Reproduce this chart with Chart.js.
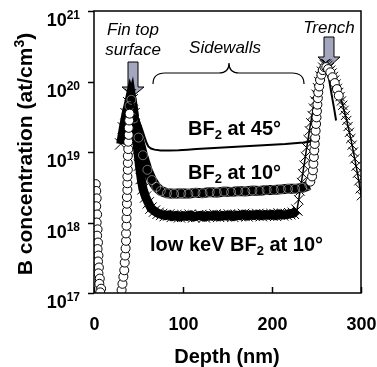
<!DOCTYPE html>
<html>
<head>
<meta charset="utf-8">
<script src="https://cdn.jsdelivr.net/npm/chart.js@4.4.0/dist/chart.umd.min.js"></script>
<style>
  html, body { margin: 0; padding: 0; background: #fff; }
  #wrap { width: 377px; height: 367px; }
</style>
</head>
<body>
<div id="wrap"><canvas id="chart" width="377" height="367"></canvas></div>
<script>
// Ticks
const depthTicks = [0, 100, 200, 300];
const concExps = [17, 18, 19, 20, 21];

// BF2 at 10° (círculos) - columna en la superficie
const surfDepth = [2, 2.5, 3, 2.5, 3.5, 3, 4, 3.5, 4.5, 4, 5, 4.5, 5.5, 5, 6.5, 6, 8, 7];
const surfConc = [3.5e18, 2.8e18, 2.2e18, 1.7e18, 1.3e18, 1.0e18, 8.0e17, 6.5e17, 5.2e17, 4.2e17, 3.4e17, 2.8e17, 2.3e17, 1.9e17, 1.6e17, 1.35e17, 1.15e17, 1.02e17];

// BF2 at 10° - columna en el flanco de la aleta
const finDepth = [31, 32, 33, 34, 34.5, 35, 35.5, 36, 36, 36.5, 36.5, 37, 37, 37, 37.5, 37.5, 37.5, 38, 38, 38, 38.5, 38.5, 39, 39, 39.5, 40];
const finConc = [1.1e17, 1.35e17, 1.7e17, 2.1e17, 2.7e17, 3.4e17, 4.3e17, 5.5e17, 7e17, 9e17, 1.15e18, 1.45e18, 1.85e18, 2.3e18, 2.9e18, 3.6e18, 4.5e18, 5.6e18, 7e18, 8.8e18, 1.1e19, 1.4e19, 1.75e19, 2.2e19, 2.8e19, 3.5e19];

// BF2 at 10° - banda de las paredes
const tenDepth = [40, 42, 45, 50, 55, 60, 65, 70, 75, 82, 90, 98, 106, 114, 122, 130, 138, 146, 154, 162, 170, 178, 186, 194, 202, 210, 218, 226, 234, 242];
const tenConc = [4.5e19, 5.5e19, 3e19, 1.6e19, 9e18, 5.6e18, 4e18, 3.2e18, 2.8e18, 2.6e18, 2.55e18, 2.6e18, 2.55e18, 2.65e18, 2.6e18, 2.7e18, 2.65e18, 2.75e18, 2.7e18, 2.8e18, 2.75e18, 2.85e18, 2.8e18, 2.9e18, 2.9e18, 2.95e18, 3e18, 3e18, 3.1e18, 3.4e18];

// BF2 at 10° - subida a la trinchera
const tenTrenchDepth = [243, 245, 246, 246.5, 247, 247.5, 248, 248.5, 249, 249.5, 250, 250.5, 251, 251.5, 252, 253, 254, 255.5, 257, 259, 261, 263, 265.5, 268, 270.5, 273, 275];
const tenTrenchConc = [3.8e18, 4.5e18, 5.5e18, 6.8e18, 8.5e18, 1.05e19, 1.3e19, 1.6e19, 2e19, 2.5e19, 3.1e19, 3.8e19, 4.7e19, 5.8e19, 7e19, 8.5e19, 1.05e20, 1.25e20, 1.45e20, 1.6e20, 1.6e20, 1.5e20, 1.35e20, 1.15e20, 9.5e19, 7.8e19, 6.3e19];

// BF2 at 45°
const f45Depth = [42, 46, 50, 54, 57, 59, 61, 64, 68, 75, 85, 95, 105, 115, 125, 135, 145, 155, 165, 175, 185, 195, 205, 215, 225, 235, 242, 246, 248, 250, 252, 255, 258, 261, 264, 267, 270, 272];
const f45Conc = [5.5e19, 4e19, 2.9e19, 2.1e19, 1.6e19, 1.35e19, 1.2e19, 1.12e19, 1.08e19, 1.05e19, 1.05e19, 1.06e19, 1.08e19, 1.1e19, 1.12e19, 1.14e19, 1.16e19, 1.18e19, 1.2e19, 1.22e19, 1.24e19, 1.26e19, 1.28e19, 1.3e19, 1.33e19, 1.36e19, 1.4e19, 1.6e19, 2.4e19, 3.5e19, 5.2e19, 8.5e19, 1.3e20, 1.5e20, 1.1e20, 6.5e19, 4e19, 2.8e19];

// low keV BF2 at 10° (cruces) - banda
const lowDepth = [30, 33, 36, 39, 41, 43, 45, 47, 49, 51, 53, 55, 58, 61, 64, 68, 72, 76, 80, 84, 88, 92, 96, 100, 104, 108, 112, 116, 120, 124, 128, 132, 136, 140, 144, 148, 152, 156, 160, 164, 168, 172, 176, 180, 184, 188, 192, 196, 200, 204, 208, 212, 216, 220, 224, 228];
const lowConc = [1.3e19, 2.2e19, 3.5e19, 5e19, 6.5e19, 5.5e19, 3.5e19, 2e19, 1.1e19, 6.5e18, 4.2e18, 3e18, 2.3e18, 1.9e18, 1.6e18, 1.45e18, 1.35e18, 1.3e18, 1.25e18, 1.28e18, 1.22e18, 1.26e18, 1.2e18, 1.25e18, 1.22e18, 1.27e18, 1.2e18, 1.24e18, 1.26e18, 1.2e18, 1.25e18, 1.23e18, 1.28e18, 1.22e18, 1.26e18, 1.24e18, 1.28e18, 1.22e18, 1.27e18, 1.25e18, 1.3e18, 1.24e18, 1.28e18, 1.26e18, 1.3e18, 1.25e18, 1.29e18, 1.27e18, 1.3e18, 1.26e18, 1.32e18, 1.28e18, 1.3e18, 1.33e18, 1.35e18, 1.5e18];

// low keV BF2 at 10° - trinchera
const lowTrenchDepth = [228, 230, 231.5, 233, 234.5, 236, 237.5, 239, 240.5, 242, 243.5, 245, 246.5, 248, 249.5, 251, 252.5, 254, 255.5, 257, 258.5, 260, 261.5, 263, 264.5, 266, 267.5, 269, 270.5, 272, 273.5, 275, 276.5, 278, 279.5, 281, 282.5, 284, 285.5, 287, 288.5, 290, 291.5, 293, 294.5, 296, 297.5, 299, 300.5];
const lowTrenchConc = [1.5e18, 2.1e18, 2.8e18, 3.7e18, 4.9e18, 6.5e18, 8.6e18, 1.15e19, 1.5e19, 2e19, 2.6e19, 3.3e19, 4.2e19, 5.3e19, 6.6e19, 8.2e19, 1e20, 1.2e20, 1.4e20, 1.6e20, 1.75e20, 1.8e20, 1.78e20, 1.7e20, 1.58e20, 1.45e20, 1.32e20, 1.18e20, 1.05e20, 9.2e19, 8e19, 7e19, 6.1e19, 5.3e19, 4.6e19, 3.9e19, 3.3e19, 2.8e19, 2.3e19, 1.9e19, 1.55e19, 1.25e19, 1e19, 8e18, 6.3e18, 5e18, 3.9e18, 3e18, 2.4e18];

const FONT = '"Liberation Sans", Arial, sans-serif';
const pts = (xs, ys) => xs.map((x, i) => ({ x, y: ys[i] }));

const circles = {
  showLine: false, pointStyle: 'circle', pointRadius: 4.5,
  pointBackgroundColor: '#fff', pointBorderColor: '#000', pointBorderWidth: 1
};

// Dibuja texto en partes (subíndices / superíndices)
function drawParts(ctx, parts, x, y, align) {
  let total = 0;
  parts.forEach(p => { ctx.font = `${p.style || 'bold'} ${p.size}px ${FONT}`; total += ctx.measureText(p.t).width; });
  let cx = align === 'center' ? x - total / 2 : align === 'right' ? x - total : x;
  ctx.textAlign = 'left';
  ctx.textBaseline = 'alphabetic';
  parts.forEach(p => {
    ctx.font = `${p.style || 'bold'} ${p.size}px ${FONT}`;
    ctx.fillText(p.t, cx, y + (p.dy || 0));
    cx += ctx.measureText(p.t).width;
  });
}

function drawArrow(ctx, x, top, headTop, tip) {
  ctx.beginPath();
  ctx.moveTo(x - 5, top); ctx.lineTo(x + 5, top); ctx.lineTo(x + 5, headTop);
  ctx.lineTo(x + 11, headTop); ctx.lineTo(x, tip); ctx.lineTo(x - 11, headTop);
  ctx.lineTo(x - 5, headTop); ctx.closePath();
  ctx.fillStyle = '#a3a6bd'; ctx.fill();
  ctx.strokeStyle = '#000'; ctx.lineWidth = 1; ctx.stroke();
}

const annotations = {
  id: 'annotations',
  beforeDatasetsDraw(chart) {
    const ctx = chart.ctx;
    ctx.save();
    drawArrow(ctx, 133, 62, 87, 96);
    drawArrow(ctx, 329, 37, 57, 67);
    // llave de "Sidewalls"
    ctx.beginPath();
    ctx.strokeStyle = '#000'; ctx.lineWidth = 1.2;
    ctx.moveTo(153, 84); ctx.quadraticCurveTo(153, 73, 165, 73);
    ctx.lineTo(219, 73); ctx.quadraticCurveTo(229, 73, 229, 63);
    ctx.quadraticCurveTo(229, 73, 239, 73);
    ctx.lineTo(292, 73); ctx.quadraticCurveTo(304, 73, 304, 84);
    ctx.stroke();
    ctx.restore();
  },
  afterDraw(chart) {
    const { ctx, chartArea: a, scales } = chart;
    ctx.save();
    ctx.fillStyle = '#000'; ctx.strokeStyle = '#000';
    // marco
    ctx.lineWidth = 1.5;
    ctx.strokeRect(a.left, a.top, a.right - a.left, a.bottom - a.top);
    // ticks eje Y (hacia fuera) y etiquetas 10^n
    concExps.forEach(e => {
      const y = Math.round(scales.y.getPixelForValue(Math.pow(10, e))) + 0.5;
      ctx.beginPath(); ctx.moveTo(a.left - 6, y); ctx.lineTo(a.left, y); ctx.stroke();
      drawParts(ctx, [{ t: '10', size: 18 }, { t: String(e), size: 12, dy: -7 }], 80, y + 14, 'right');
    });
    // ticks eje X (hacia dentro) y etiquetas
    depthTicks.forEach(d => {
      const x = Math.round(scales.x.getPixelForValue(d)) + 0.5;
      ctx.beginPath(); ctx.moveTo(x, a.bottom); ctx.lineTo(x, a.bottom - 6); ctx.stroke();
      drawParts(ctx, [{ t: String(d), size: 18 }], x, 330, 'center');
    });
    // títulos de ejes
    drawParts(ctx, [{ t: 'Depth (nm)', size: 20 }], 227, 363, 'center');
    ctx.save();
    ctx.translate(32, 154);
    ctx.rotate(-Math.PI / 2);
    drawParts(ctx, [{ t: 'B concentration (at/cm', size: 21 }, { t: '3', size: 14, dy: -8 }, { t: ')', size: 21 }], 0, 0, 'center');
    ctx.restore();
    // anotaciones en cursiva
    drawParts(ctx, [{ t: 'Fin top', size: 17, style: 'italic' }], 133, 35, 'center');
    drawParts(ctx, [{ t: 'surface', size: 17, style: 'italic' }], 133, 55, 'center');
    drawParts(ctx, [{ t: 'Sidewalls', size: 17, style: 'italic' }], 225, 53, 'center');
    drawParts(ctx, [{ t: 'Trench', size: 17, style: 'italic' }], 329, 33, 'center');
    // etiquetas de series
    drawParts(ctx, [{ t: 'BF', size: 20 }, { t: '2', size: 13, dy: 4 }, { t: ' at 45°', size: 20 }], 188, 135, 'left');
    drawParts(ctx, [{ t: 'BF', size: 20 }, { t: '2', size: 13, dy: 4 }, { t: ' at 10°', size: 20 }], 188, 179, 'left');
    drawParts(ctx, [{ t: 'low keV BF', size: 20 }, { t: '2', size: 13, dy: 4 }, { t: ' at 10°', size: 20 }], 150, 251, 'left');
    ctx.restore();
  }
};

new Chart(document.getElementById('chart'), {
  type: 'scatter',
  data: {
    datasets: [
      { label: 'BF2 at 10° surface', data: pts(surfDepth, surfConc), ...circles },
      { label: 'BF2 at 10° fin', data: pts(finDepth, finConc), ...circles },
      { label: 'BF2 at 10° trench', data: pts(tenTrenchDepth, tenTrenchConc), ...circles },
      {
        label: 'BF2 at 45°', data: pts(f45Depth, f45Conc), showLine: true,
        borderColor: '#000', borderWidth: 2, pointRadius: 0
      },
      {
        label: 'BF2 at 10°', data: pts(tenDepth, tenConc), showLine: true,
        borderColor: '#000', borderWidth: 10, pointStyle: 'circle', pointRadius: 4.5,
        pointBackgroundColor: 'rgba(0,0,0,0)', pointBorderColor: 'rgba(255,255,255,0.55)', pointBorderWidth: 0.8
      },
      {
        label: 'low keV BF2 at 10°', data: pts(lowDepth, lowConc), showLine: true,
        borderColor: '#000', borderWidth: 9, pointStyle: 'crossRot', pointRadius: 8,
        pointBorderColor: '#000', pointBorderWidth: 1
      },
      {
        label: 'low keV BF2 at 10° trench', data: pts(lowTrenchDepth, lowTrenchConc), showLine: true,
        borderColor: '#000', borderWidth: 1.5, pointStyle: 'crossRot', pointRadius: 6.5,
        pointBorderColor: '#000', pointBorderWidth: 1
      }
    ]
  },
  options: {
    responsive: false,
    animation: false,
    devicePixelRatio: 1,
    layout: { padding: { left: 94, right: 16, top: 11, bottom: 74 } },
    scales: {
      x: { type: 'linear', min: 0, max: 300, display: false },
      y: { type: 'logarithmic', min: 1e17, max: 1e21, display: false }
    },
    plugins: { legend: { display: false }, tooltip: { enabled: false } }
  },
  plugins: [annotations]
});
</script>
</body>
</html>
